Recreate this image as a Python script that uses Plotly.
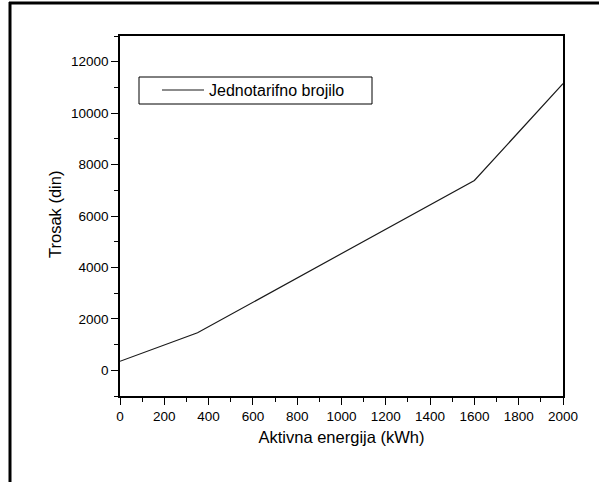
import plotly.graph_objects as go

# Single-rate meter: cost vs. consumed active energy
energy_kwh = [0, 350, 1600, 2000]
cost_din = [350, 1460, 7380, 11150]
series_name = "Jednotarifno brojilo"

x_title = "Aktivna energija (kWh)"
y_title = "Trosak (din)"

W, H = 600, 483
L, R, T, B = 120, 37, 36, 87
pw, ph = W - L - R, H - T - B
FONT = "Liberation Sans, Arial"


def px(x):
    return (x - L) / pw


def py(y):
    return (H - B - y) / ph


fig = go.Figure()
fig.add_trace(go.Scatter(
    x=energy_kwh, y=cost_din, mode="lines", name=series_name,
    line=dict(color="#1a1a1a", width=1.2), showlegend=False,
))

axis_common = dict(
    showline=True, linecolor="black", linewidth=1.5, mirror=True,
    ticks="outside", ticklen=7, tickwidth=1.2, tickcolor="black",
    showgrid=False, zeroline=False, tickformat="d",
    tickfont=dict(family=FONT, size=13.5, color="black"),
    minor=dict(ticks="outside", ticklen=4, tickwidth=1.2, tickcolor="black"),
)

fig.update_xaxes(
    range=[0, 2000], dtick=200, minor_dtick=100,
    title=dict(text=x_title, font=dict(family=FONT, size=16.5, color="black"), standoff=8),
    **axis_common,
)
fig.update_yaxes(
    range=[-1000, 13000], tick0=0, dtick=2000, minor_dtick=1000,
    **axis_common,
)

shapes = [
    # outer frame of the figure (left and top edges)
    dict(type="line", xref="paper", yref="paper",
         x0=px(10), x1=px(10), y0=py(2), y1=py(H - 1),
         line=dict(color="black", width=3)),
    dict(type="line", xref="paper", yref="paper",
         x0=px(9), x1=px(W - 1), y0=py(3), y1=py(3),
         line=dict(color="black", width=3)),
    # legend box
    dict(type="rect", xref="paper", yref="paper",
         x0=px(139), x1=px(372), y0=py(104), y1=py(77),
         line=dict(color="black", width=1), fillcolor="white"),
    # legend sample line
    dict(type="line", xref="paper", yref="paper",
         x0=px(162), x1=px(204), y0=py(90), y1=py(90),
         line=dict(color="#1a1a1a", width=1.2)),
]

annotations = [
    # legend label
    dict(xref="paper", yref="paper", x=px(207), y=py(90),
         text=series_name, showarrow=False, xanchor="left", yanchor="middle",
         font=dict(family=FONT, size=16, color="black")),
    # y-axis title
    dict(xref="paper", yref="paper", x=px(55), y=py(215),
         text=y_title, showarrow=False, textangle=-90,
         xanchor="center", yanchor="middle",
         font=dict(family=FONT, size=16.5, color="black")),
]

fig.update_layout(
    width=W, height=H,
    margin=dict(l=L, r=R, t=T, b=B),
    paper_bgcolor="white", plot_bgcolor="white",
    shapes=shapes,
    annotations=annotations,
)

fig.write_html("out.html")
